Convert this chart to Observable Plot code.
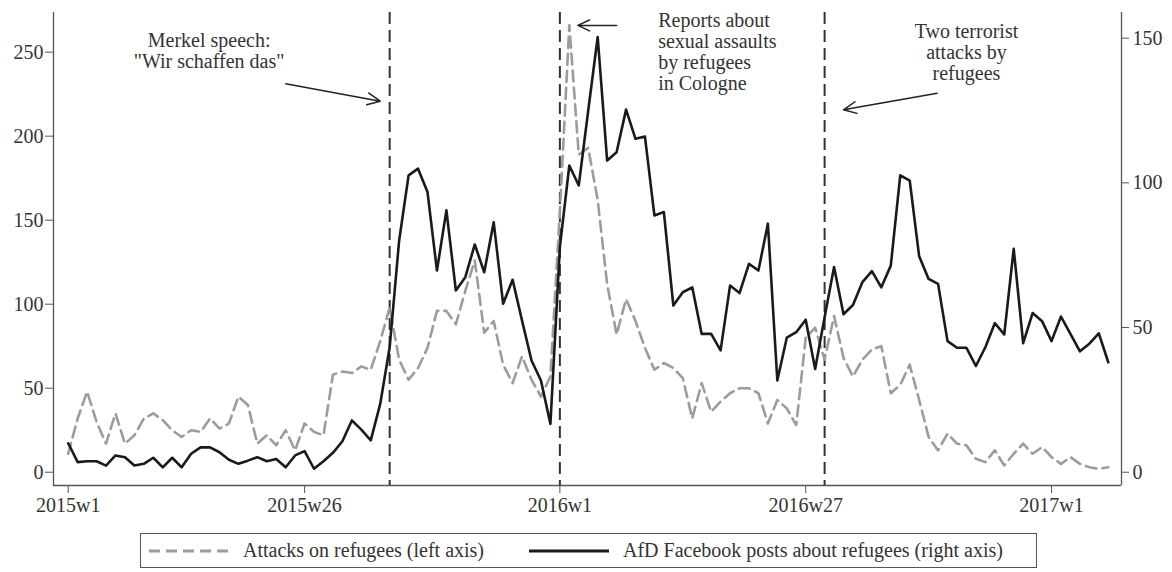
<!DOCTYPE html>
<html>
<head>
<meta charset="utf-8">
<script src="https://cdn.jsdelivr.net/npm/d3@7"></script>
<script src="https://cdn.jsdelivr.net/npm/@observablehq/plot@0.6"></script>
<style>
  html, body { margin: 0; padding: 0; background: #fff; }
  #wrap { position: relative; width: 1172px; height: 572px; font-family: "Liberation Serif", "DejaVu Serif", serif; color: #333; }
  #legend { position: absolute; left: 140px; top: 533px; width: 895px; height: 33px; border: 1px solid #555; box-sizing: content-box; font-size: 20px; }
  .item { position: absolute; top: 0; height: 33px; display: flex; align-items: center; white-space: nowrap; }
  .item svg { margin-right: 14px; }
</style>
</head>
<body>
<div id="wrap">
  <div id="chart"></div>
  <div id="legend"></div>
</div>
<script>
// Weekly series, 2015w1 .. 2017w7 (Stata weeks, 52 per year)
const attacks = [11,32,48,30,17,35,17,22,32,35,31,25,21,25,24,32,26,29,45,40,
  17,22,16,25,13,29,24,22,58,60,59,63,61,78,98,67,55,62,74,96,
  96,88,108,126,83,90,64,53,69,55,45,57,155,266,189,193,162,112,82,103,
  90,74,61,65,62,56,32,53,36,42,47,50,50,47,29,43,38,28,80,86,
  67,93,68,57,67,73,75,47,52,64,43,21,13,23,17,16,8,6,13,4,
  11,17,11,15,9,5,9,5,3,2,3];
const afdPosts = [10,3.5,3.8,3.8,2.3,5.8,5.2,2.3,2.9,5,1.7,5,1.7,6.4,8.6,8.6,6.9,4.3,2.9,4,
  5.2,3.8,4.6,1.7,5.8,7.3,1.2,3.8,6.7,10.7,17.9,14.7,11,23.6,43.2,80,102.6,104.9,96.8,69.7,
  90.5,62.8,67.4,78.7,69.1,86.4,58.2,66.5,52.4,38.6,31.7,16.7,77.8,106,99.1,125,150.4,107.7,110.6,125.3,
  115.2,116,88.7,89.9,57.6,62.2,63.9,47.8,47.8,42.1,64.5,61.9,72,69.7,85.9,31.7,46.5,48.4,52.7,35.7,
  53.6,70.9,54.6,57.8,65.7,69.5,63.9,71.4,102.6,100.8,74.6,66.8,65.1,45.3,43,43,36.7,43.2,51.5,47.6,
  77.2,44.6,55,52.2,45.3,53.8,47.8,41.8,44.4,48,38];

const tickWeeks = [0, 25, 52, 78, 104];
const tickLabels = ["2015w1", "2015w26", "2016w1", "2016w27", "2017w1"];
const leftTicks = [0, 50, 100, 150, 200, 250];
const rightTicks = [0, 50, 100, 150];
const eventWeeks = [34, 52, 80];

const noteTexts = ["Merkel speech:\n\"Wir schaffen das\"",
                   "Reports about\nsexual assaults\nby refugees\nin Cologne",
                   "Two terrorist\nattacks by\nrefugees"];
const noteWeek = [14.9, 62.4, 95.0];
const noteValue = [240.3, 227.6, 233.6];
const noteAnchor = ["middle", "start", "middle"];

const arrowFromWeek = [23.0, 58.0, 91.9];
const arrowFromValue = [231.2, 265.9, 225.6];
const arrowToWeek = [33.0, 53.9, 82.0];
const arrowToValue = [220.8, 265.9, 215.7];

const seriesNames = ["Attacks on refugees (left axis)", "AfD Facebook posts about refugees (right axis)"];

// ---- build ----
const k = 1.7222; // right-axis unit expressed in left-axis units
const xDomain = [-1.555, 111.4];
const yDomain = [-7.9, 273.6];

const data = attacks.map((a, i) => ({i, attacks: a, afd: afdPosts[i]}));
const labelOf = new Map(tickWeeks.map((w, j) => [w, tickLabels[j]]));
const notes = noteTexts.map((t, j) => ({t, x: noteWeek[j], y: noteValue[j], a: noteAnchor[j]}));
const arrows = arrowFromWeek.map((x1, j) => ({x1, y1: arrowFromValue[j], x2: arrowToWeek[j], y2: arrowToValue[j]}));

const chart = Plot.plot({
  width: 1172,
  height: 522,
  marginLeft: 53,
  marginRight: 51,
  marginTop: 12,
  marginBottom: 37,
  style: {fontFamily: "'Liberation Serif', 'DejaVu Serif', serif", fontSize: "20px", color: "#333", background: "#fff", overflow: "visible"},
  x: {domain: xDomain},
  y: {domain: yDomain},
  marks: [
    Plot.ruleX([xDomain[0], xDomain[1]], {stroke: "#555", strokeWidth: 1.3}),
    Plot.ruleY([yDomain[0]], {stroke: "#555", strokeWidth: 1.3}),
    Plot.axisX({ticks: tickWeeks, tickFormat: d => labelOf.get(d), tickSize: 8, tickPadding: 4, fontSize: 20, stroke: "#555", fill: "#333"}),
    Plot.axisY({ticks: leftTicks, tickSize: 8, tickPadding: 2, fontSize: 20, stroke: "#555", fill: "#333"}),
    Plot.axisY({anchor: "right", ticks: rightTicks.map(v => v * k), tickFormat: d => String(Math.round(d / k)), tickSize: 7, tickPadding: 4, fontSize: 20, stroke: "#555", fill: "#333"}),
    Plot.ruleX(eventWeeks, {stroke: "#333", strokeWidth: 2, strokeDasharray: "12,6"}),
    Plot.line(data, {x: "i", y: "attacks", stroke: "#9c9c9c", strokeWidth: 2.6, strokeDasharray: "11,6"}),
    Plot.line(data, {x: "i", y: d => d.afd * k, stroke: "#1a1a1a", strokeWidth: 2.6}),
    Plot.arrow(arrows, {x1: "x1", y1: "y1", x2: "x2", y2: "y2", stroke: "#222", strokeWidth: 1.5, headLength: 14, headAngle: 50}),
    Plot.text(notes.filter(n => n.a === "middle"), {x: "x", y: "y", text: "t", textAnchor: "middle", lineAnchor: "bottom", lineHeight: 1.05, fontSize: 20, fill: "#333"}),
    Plot.text(notes.filter(n => n.a === "start"), {x: "x", y: "y", text: "t", textAnchor: "start", lineAnchor: "bottom", lineHeight: 1.05, fontSize: 20, fill: "#333"})
  ]
});
document.getElementById("chart").appendChild(chart);

// ---- legend ----
const legend = document.getElementById("legend");
const legendItems = [
  {name: seriesNames[0], stroke: "#9c9c9c", dash: "11,6", left: 8},
  {name: seriesNames[1], stroke: "#1a1a1a", dash: null, left: 388}
];
for (const it of legendItems) {
  const div = document.createElement("div");
  div.className = "item";
  div.style.left = it.left + "px";
  div.innerHTML = `<svg width="80" height="10"><line x1="0" y1="5" x2="80" y2="5" stroke="${it.stroke}" stroke-width="2.8" ${it.dash ? `stroke-dasharray="${it.dash}"` : ""}/></svg><span>${it.name}</span>`;
  legend.appendChild(div);
}
</script>
</body>
</html>
